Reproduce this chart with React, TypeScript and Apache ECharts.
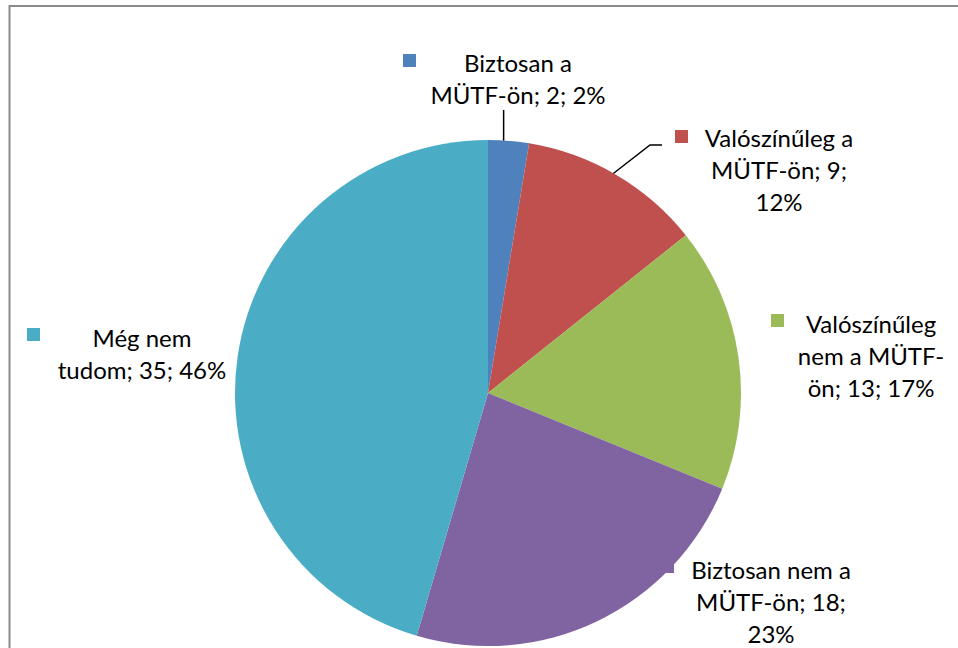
import React, { useEffect, useRef } from "react";
import * as echarts from "echarts";

const categories = [
  "Biztosan a MÜTF-ön",
  "Valószínűleg a MÜTF-ön",
  "Valószínűleg nem a MÜTF-ön",
  "Biztosan nem a MÜTF-ön",
  "Még nem tudom",
];
const values = [2, 9, 13, 18, 35];
const percents = [2, 12, 17, 23, 46];
const colors = ["#4F81BD", "#C0504D", "#9BBB59", "#8064A2", "#4BACC6"];

// character positions where each label wraps
const labelBreaks = [[10], [14, 26], [12, 24], [14, 27], [7]];
// label block placement: centre x, top y
const labelPos = [
  { x: 518, y: 46 },
  { x: 779, y: 121 },
  { x: 871, y: 307 },
  { x: 771, y: 553 },
  { x: 142, y: 321 },
];
const keyPos = [
  [403, 54],
  [675, 130],
  [771, 314],
  [661, 560],
  [27, 328],
];

function wrap(text: string, breaks: number[]): string {
  const parts: string[] = [];
  let prev = 0;
  for (const b of breaks) {
    parts.push(text.slice(prev, b).trim());
    prev = b;
  }
  parts.push(text.slice(prev).trim());
  return parts.join("\n");
}

export default function App() {
  const ref = useRef<HTMLDivElement>(null);
  useEffect(() => {
    document.body.style.margin = "0";
    const chart = echarts.init(ref.current!, null, { renderer: "svg" });
    const data = categories.map((c, i) => ({
      name: c,
      value: values[i],
      itemStyle: { color: colors[i] },
      labelLine: { show: i < 2 },
    }));
    chart.setOption({
      animation: false,
      backgroundColor: "#ffffff",
      graphic: [
        {
          type: "rect",
          silent: true,
          shape: { x: 9.5, y: 6, width: 1200, height: 1200 },
          style: { fill: "none", stroke: "#8a8a8a", lineWidth: 2 },
        },
      ],
      legend: categories.map((c, i) => ({
        data: [c],
        left: keyPos[i][0],
        top: keyPos[i][1],
        padding: 0,
        itemGap: 0,
        itemWidth: 13,
        itemHeight: 13,
        icon: "rect",
        selectedMode: false,
        formatter: () => "",
        textStyle: { fontSize: 1 },
      })),
      series: [
        {
          type: "pie",
          center: [488, 393],
          radius: 253,
          startAngle: 90,
          clockwise: true,
          avoidLabelOverlap: false,
          itemStyle: { borderWidth: 0 },
          emphasis: { disabled: true },
          label: {
            show: true,
            position: "outside",
            fontFamily: "Lato",
            fontSize: 24,
            lineHeight: 32,
            color: "#000",
            align: "center",
            formatter: (p: any) =>
              wrap(
                `${p.name}; ${p.value}; ${percents[p.dataIndex]}%`,
                labelBreaks[p.dataIndex]
              ),
          },
          labelLine: {
            lineStyle: { color: "#000", width: 1.5 },
          },
          labelLayout: (params: any) => {
            const i = params.dataIndex;
            const L = labelPos[i];
            const res: any = { x: L.x, y: L.y, align: "center", verticalAlign: "top" };
            const p0 = params.labelLinePoints ? params.labelLinePoints[0] : null;
            if (p0 && i === 0) {
              res.labelLinePoints = [
                [p0[0] - 5, p0[1]],
                [p0[0] - 5, 110],
              ];
            } else if (p0 && i === 1) {
              res.labelLinePoints = [
                [p0[0] - 3, p0[1] - 1],
                [650, 145],
                [662, 145],
              ];
            }
            return res;
          },
          data,
        },
      ],
    });
    return () => chart.dispose();
  }, []);
  return <div ref={ref} style={{ width: 958, height: 648 }} />;
}
